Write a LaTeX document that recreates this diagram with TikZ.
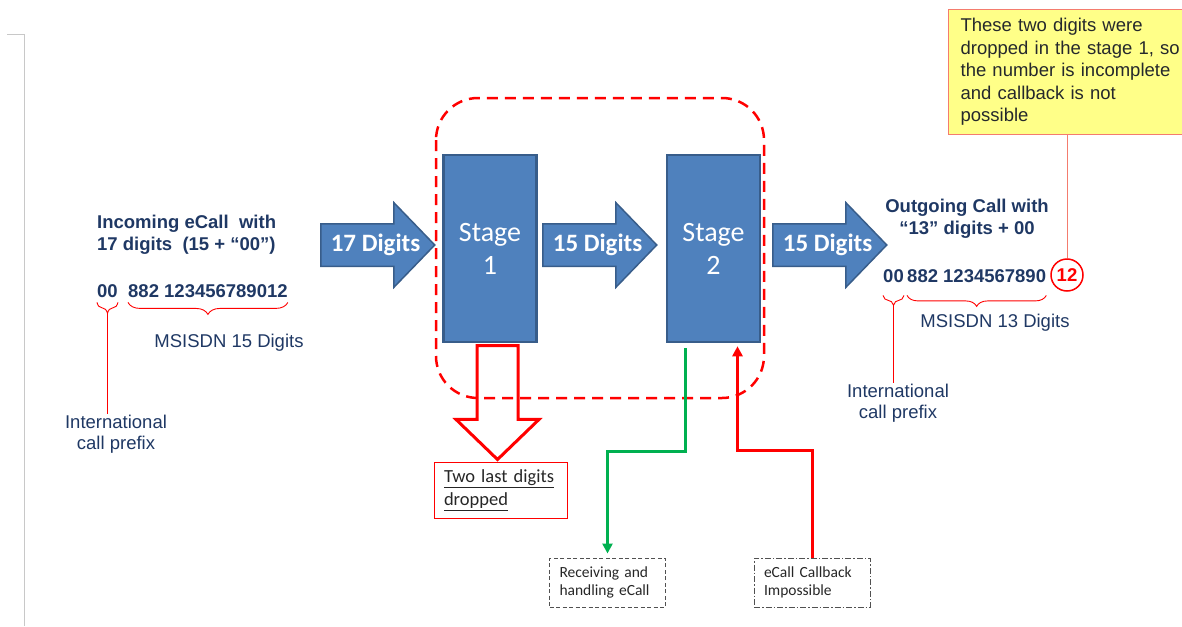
\documentclass[tikz,border=0pt]{standalone}
\usepackage{fontspec}
\setmainfont{Liberation Sans}
\newfontfamily\calibri{Carlito}
\usetikzlibrary{shapes.arrows,decorations.pathreplacing,arrows.meta,calc}
\definecolor{boxblue}{HTML}{4F81BD}
\definecolor{boxedge}{HTML}{385D8A}
\definecolor{navytext}{HTML}{1F3864}
\definecolor{greyline}{HTML}{C8C8C8}
\definecolor{notefill}{HTML}{FFFF88}
\definecolor{noteedge}{HTML}{F47C6E}
\definecolor{okgreen}{HTML}{00B050}
\definecolor{darktext}{HTML}{262626}
\begin{document}
\begin{tikzpicture}[x=1pt,y=-1pt,
  bigtext/.style={font=\fontsize{18.5}{21.5}\selectfont,text=navytext,inner sep=0pt},
  headtext/.style={font=\fontsize{18.5}{21.5}\selectfont\bfseries,text=navytext,inner sep=0pt},
  digitarrow/.style={single arrow,draw=boxedge,fill=boxblue,line width=1.5pt,
    minimum height=114pt,minimum width=83pt,single arrow head extend=21pt,
    single arrow tip angle=92,inner xsep=0pt,inner ysep=20.5pt,anchor=tail},
  arrowtext/.style={text=white,inner sep=0pt,
    font=\calibri\fontsize{25}{28}\selectfont\bfseries},
  stagebox/.style={draw=boxedge,fill=boxblue,line width=2.5pt,
    minimum width=93pt,minimum height=187pt,text=white,align=center,
    font=\calibri\fontsize{28}{33}\selectfont},
  prefixbrace/.style={draw=red,line width=0.9pt,decorate,
    decoration={brace,mirror,amplitude=#1}},
  prefixline/.style={draw=red,line width=0.9pt},
  smallbox/.style={line width=1pt,minimum width=116pt,minimum height=49pt,
    text width=96pt,align=left,text=darktext,inner xsep=10pt,
    font=\calibri\fontsize{15.5}{18.5}\selectfont},
  flowline/.style={line width=3pt,-{Triangle[length=10pt,width=10pt]}}]

  \useasboundingbox (0,0) rectangle (1182,626);
  \draw[greyline,line width=1pt] (7,35) -- (24,35) -- (24,626);

  % incoming side
  \node[headtext,align=left,anchor=west] (incoming) at (97,235)
    {Incoming eCall\ \ with\\17 digits\ \ (15 + “00”)};
  \node[headtext,anchor=base west] (in00) at (97,297) {00};
  \node[headtext,anchor=base west] (innum) at (128,297) {882 123456789012};
  \draw[prefixbrace=11] ($(in00.south west)+(0,5)$) -- ($(in00.south east)+(0,5)$);
  \draw[prefixbrace=12] ($(innum.south west)+(0,5)$) -- ($(innum.south east)+(0,5)$);
  \node[bigtext] (inmsisdn) at (229,343) {MSISDN 15 Digits};
  \node[bigtext,align=center] (intlL) at (116,434) {International\\call prefix};
  \draw[prefixline] ($(in00.south)+(0,16)$) -- (in00.south |- intlL.north);

  % stages
  \node[digitarrow] (arr17) at (320,245) {};
  \node[arrowtext] (arr17txt) at ($(arr17.tail)!0.48!(arr17.tip)$) {17 Digits};
  \node[stagebox] (stage1) at (490,248.5) {Stage\\1};
  \node[digitarrow] (arr15a) at (542,245) {};
  \node[arrowtext] (arr15atxt) at ($(arr15a.tail)!0.48!(arr15a.tip)$) {15 Digits};
  \node[stagebox] (stage2) at (713.5,248.5) {Stage\\2};
  \node[digitarrow] (arr15b) at (772,245) {};
  \node[arrowtext] (arr15btxt) at ($(arr15b.tail)!0.48!(arr15b.tip)$) {15 Digits};

  \draw[red,line width=2.5pt,dash pattern=on 11pt off 7pt,rounded corners=42pt]
    (436,98) rectangle (764,398);

  % dropped digits
  \node[single arrow,draw=red,line width=3pt,rotate=-90,anchor=tail,
    minimum height=114pt,minimum width=80pt,single arrow head extend=21pt,
    single arrow tip angle=92,inner xsep=0pt,inner ysep=19pt] (drop) at (497.5,344) {};
  \node[smallbox,draw=red,minimum width=133pt,minimum height=56pt,text width=113pt,
    font=\calibri\fontsize{18.5}{23}\selectfont] (dropbox) at (500.5,490)
    {\underline{Two last digits}\\\underline{dropped}};

  \node[smallbox,draw=darktext!80,dash pattern=on 4pt off 2.5pt] (recv) at (607.5,582.5)
    {Receiving and\\handling eCall};
  \node[smallbox,draw=darktext!80,dash pattern=on 6pt off 2pt on 1.5pt off 2pt,
    minimum width=114pt] (cback) at (812,582.5) {eCall Callback\\Impossible};
  \draw[flowline,okgreen,shorten >=4pt] ($(stage2.south)+(-28.5,5)$) -- ++(0,103) -| (recv.north);
  \draw[flowline,red] (cback.north) -- ++(0,-107) -| ($(stage2.south)+(24,3)$);

  % outgoing side
  \node[headtext,align=center] (outgoing) at (967,219)
    {Outgoing Call with\\“13” digits + 00};
  \node[headtext,anchor=base west] (out00) at (883,282) {00};
  \node[headtext,anchor=base west] (outnum) at (907,282) {882 1234567890};
  \node[circle,draw=red,line width=1.5pt,minimum size=32pt,inner sep=0pt,text=red,
    font=\fontsize{18.5}{21.5}\selectfont\bfseries] (c12) at (1067,275) {12};
  \draw[prefixbrace=10] ($(out00.south west)+(0,13)$) -- ($(out00.south east)+(0,13)$);
  \draw[prefixbrace=11] ($(outnum.south west)+(0,13)$) -- ($(outnum.south east)+(0,13)$);
  \node[bigtext] (outmsisdn) at (995,323) {MSISDN 13 Digits};
  \node[bigtext,align=center] (intlR) at (898,403) {International\\call prefix};
  \draw[prefixline] ($(out00.south)+(0,23)$) -- (out00.south |- intlR.north);

  % note
  \node[draw=noteedge,fill=notefill,line width=1.2pt,anchor=north west,
    minimum width=250pt,minimum height=125pt,text width=226pt,inner xsep=12pt,
    align=left,text=darktext!90!navytext,font=\fontsize{18.5}{22.5}\selectfont]
    (note) at (948,9)
    {These two digits were\\dropped in the stage 1, so\\the number is incomplete\\and callback is not\\possible};
  \draw[noteedge,line width=1pt] (note.south -| c12.north) -- (c12.north);
\end{tikzpicture}
\end{document}
